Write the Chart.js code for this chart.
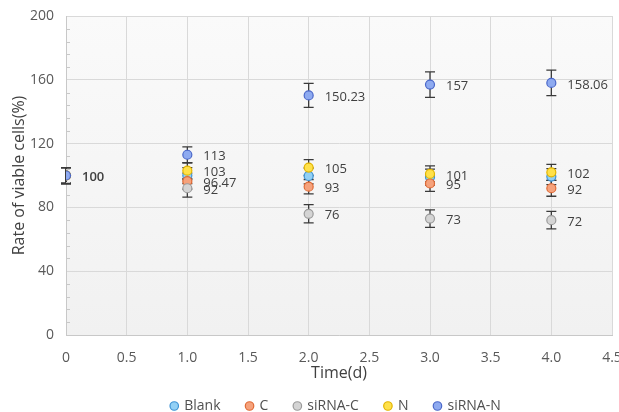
<!DOCTYPE html>
<html>
<head>
<meta charset="utf-8">
<script src="https://cdn.jsdelivr.net/npm/chart.js@4.4.1/dist/chart.umd.min.js"></script>
<style>
html,body{margin:0;padding:0;background:#fff;}
#wrap{width:619px;height:412px;}
</style>
</head>
<body>
<div id="wrap"><canvas id="c" width="619" height="412"></canvas></div>
<script>
const times = [0, 1, 2, 3, 4];
const seriesNames = ["Blank", "C", "siRNA-C", "N", "siRNA-N"];
const blankVals = [100, 100, 99.7, 99, 99.3];
const cVals = [100, 96.47, 93, 95, 92];
const sirnaCVals = [100, 92, 76, 73, 72];
const nVals = [100, 103, 105, 101, 102];
const sirnaNVals = [100, 113, 150.23, 157, 158.06];

const blankErr = [5, 5, 5, 5, 5];
const cErr = [5, 5, 4.5, 5, 5];
const sirnaCErr = [5, 5.5, 5.7, 5.5, 5.5];
const nErr = [5, 5, 5, 5, 5];
const sirnaNErr = [5, 5, 7.5, 8, 8];

const blankLabels = ["100", "", "", "", ""];
const cLabels = ["", "96.47", "93", "95", "92"];
const sirnaCLabels = ["", "92", "76", "73", "72"];
const nLabels = ["", "103", "105", "101", "102"];
const sirnaNLabels = ["", "113", "150.23", "157", "158.06"];

const xTicks = [0, 0.5, 1, 1.5, 2, 2.5, 3, 3.5, 4, 4.5];
const yTicks = [0, 40, 80, 120, 160, 200];

const FONT = "'Open Sans', 'DejaVu Sans', sans-serif";

const fills = ["#92d0f5", "#f5a27c", "#d4d4d4", "#ffe14a", "#8eaaf0"];
const borders = ["#3e93d4", "#e06a35", "#9a9a9a", "#e2b400", "#4a67c9"];

const valsAll = [blankVals, cVals, sirnaCVals, nVals, sirnaNVals];
const errAll = [blankErr, cErr, sirnaCErr, nErr, sirnaNErr];
const labAll = [blankLabels, cLabels, sirnaCLabels, nLabels, sirnaNLabels];

const datasets = seriesNames.map((name, i) => ({
  label: name,
  data: times.map((t, j) => ({x: t, y: valsAll[i][j]})),
  errors: errAll[i],
  valueLabels: labAll[i],
  showLine: false,
  pointRadius: 4.5,
  pointHoverRadius: 4.5,
  pointBackgroundColor: fills[i],
  pointBorderColor: borders[i],
  pointBorderWidth: 1.2,
  backgroundColor: fills[i],
  borderColor: borders[i],
  borderWidth: 1.2,
  order: 5 - i
}));

const bgPlugin = {
  id: 'bg',
  afterLayout(chart) {
    if (chart.legend) { chart.legend.left += 30; chart.legend.right += 30; }
  },
  beforeDraw(chart) {
    const {ctx, chartArea: a} = chart;
    ctx.save();
    const g = ctx.createLinearGradient(0, a.top, 0, a.bottom);
    g.addColorStop(0, '#fafafa');
    g.addColorStop(1, '#f1f1f1');
    ctx.fillStyle = g;
    ctx.fillRect(a.left, a.top, a.right - a.left, a.bottom - a.top);
    ctx.restore();
  },
  afterDraw(chart) {
    const {ctx, chartArea: a, scales} = chart;
    ctx.save();
    ctx.strokeStyle = '#c8c8c8';
    ctx.lineWidth = 1;
    for (let v = 0; v <= 200; v += 8) {
      if (v % 40 === 0) continue;
      const y = Math.round(scales.y.getPixelForValue(v)) + 0.5;
      ctx.beginPath();
      ctx.moveTo(a.left, y);
      ctx.lineTo(a.left + 4, y);
      ctx.stroke();
    }
    ctx.restore();
  }
};

const errPlugin = {
  id: 'err',
  beforeDatasetsDraw(chart) {
    const {ctx, scales} = chart;
    ctx.save();
    ctx.strokeStyle = '#3a3a3a';
    ctx.lineWidth = 1.3;
    chart.data.datasets.forEach(ds => {
      ds.data.forEach((p, j) => {
        const e = ds.errors[j];
        const x = scales.x.getPixelForValue(p.x);
        const y1 = scales.y.getPixelForValue(p.y + e);
        const y2 = scales.y.getPixelForValue(p.y - e);
        ctx.beginPath();
        ctx.moveTo(x, y1); ctx.lineTo(x, y2);
        ctx.moveTo(x - 5, y1); ctx.lineTo(x + 5, y1);
        ctx.moveTo(x - 5, y2); ctx.lineTo(x + 5, y2);
        ctx.stroke();
      });
    });
    ctx.restore();
  },
  afterDatasetsDraw(chart) {
    const {ctx, scales} = chart;
    ctx.save();
    ctx.fillStyle = '#404040';
    ctx.textBaseline = 'middle';
    ctx.textAlign = 'left';
    chart.data.datasets.forEach(ds => {
      ds.data.forEach((p, j) => {
        const t = ds.valueLabels[j];
        if (!t) return;
        const x = scales.x.getPixelForValue(p.x);
        const y = scales.y.getPixelForValue(p.y);
        ctx.font = (p.x === 0 ? '600 ' : '') + '13px ' + FONT;
        ctx.fillText(t, x + 16, y + 2);
      });
    });
    ctx.restore();
  }
};

new Chart(document.getElementById('c'), {
  type: 'scatter',
  data: {datasets},
  options: {
    responsive: false,
    animation: false,
    events: [],
    layout: {padding: {top: 16, right: 7, left: 0, bottom: -11}},
    plugins: {
      tooltip: {enabled: false},
      legend: {
        position: 'bottom',
        labels: {
          sort: (a, b) => a.datasetIndex - b.datasetIndex,
          usePointStyle: true,
          pointStyle: 'circle',
          boxWidth: 6,
          boxHeight: 6,
          padding: 26,
          color: '#505050',
          font: {family: FONT, size: 14}
        }
      }
    },
    scales: {
      x: {
        type: 'linear',
        min: 0, max: 4.5,
        afterBuildTicks: s => { s.ticks = xTicks.map(v => ({value: v})); },
        afterFit: s => { s.height = 38; s.paddingLeft = 0; s.paddingRight = 0; },
        ticks: {color: '#595959', font: {family: FONT, size: 14}, padding: 15, maxRotation: 0},
        grid: {color: '#d9d9d9', drawTicks: false},
        border: {color: '#c8c8c8'},
        title: {display: true, text: 'Time(d)', color: '#404040', font: {family: FONT, size: 16}, padding: {top: 0, bottom: -10}}
      },
      y: {
        type: 'linear',
        min: 0, max: 200,
        afterBuildTicks: s => { s.ticks = yTicks.map(v => ({value: v})); },
        afterFit: s => { s.width = 66; s.paddingTop = 0; s.paddingBottom = 0; },
        ticks: {color: '#595959', font: {family: FONT, size: 14}, padding: 12},
        grid: {color: '#d9d9d9', drawTicks: false},
        border: {color: '#c8c8c8'},
        title: {display: true, text: 'Rate of viable cells(%)', color: '#404040', font: {family: FONT, size: 16}, padding: {top: 10, bottom: 0}}
      }
    }
  },
  plugins: [bgPlugin, errPlugin]
});
</script>
</body>
</html>
